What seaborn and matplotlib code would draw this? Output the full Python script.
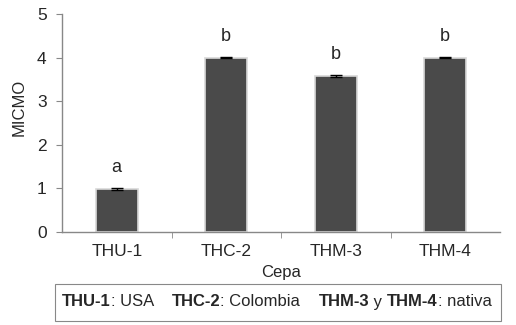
import matplotlib
matplotlib.use("Agg")
import matplotlib.pyplot as plt
import seaborn as sns
import pandas as pd
import numpy as np

categories = ["THU-1", "THC-2", "THM-3", "THM-4"]
values = [0.99, 4.0, 3.58, 4.0]
errors = [0.02, 0.02, 0.02, 0.02]
letters = ["a", "b", "b", "b"]

sns.set_style("white")
plt.rcParams['font.family'] = ['Liberation Sans', 'DejaVu Sans']

df = pd.DataFrame({"Cepa": categories, "MICMO": values})

fig = plt.figure(figsize=(5.16, 3.25), dpi=100)
ax = fig.add_axes([62/516, 1 - 232/325, (500-62)/516, (232-14)/325])

sns.barplot(data=df, x="Cepa", y="MICMO", color="#4a4a4a", width=0.38,
            edgecolor="#d8d8d8", linewidth=1.2, errorbar=None, ax=ax, saturation=1)
x = np.arange(len(categories))
ax.errorbar(x, values, yerr=errors, fmt="none", ecolor="black", elinewidth=1, capsize=4, capthick=1)
for xi, v, l in zip(x, values, letters):
    ax.text(xi, v + 0.3, l, ha="center", va="bottom", fontsize=13)

ax.set_xlim(-0.5, 3.5)
ax.set_ylim(0, 5)
ax.set_yticks([0, 1, 2, 3, 4, 5])
ax.set_xticks(x)
ax.set_xticklabels(categories, fontsize=12.5)
ax.tick_params(axis="y", labelsize=12.5, length=4, color="#888888", left=True, pad=7)
ax.tick_params(axis="x", length=0, pad=9)
ax.set_xticks([0.5, 1.5, 2.5], minor=True)
ax.tick_params(axis="x", which="minor", length=4, color="#888888", bottom=True)
for s in ["top", "right"]:
    ax.spines[s].set_visible(False)
for s in ["left", "bottom"]:
    ax.spines[s].set_color("#888888")
    ax.spines[s].set_linewidth(1)
ax.set_xlabel("Cepa", fontsize=12)
ax.set_ylabel("MICMO", fontsize=12)
ax.xaxis.set_label_coords(0.5, -(272 - 232) / 218, transform=ax.transAxes)
ax.xaxis.label.set_va("center")
ax.yaxis.set_label_coords(-(62 - 19) / 438, (232 - 107) / 218, transform=ax.transAxes)
ax.yaxis.label.set_va("center")

# legend box
fig.patches.append(plt.Rectangle((55/516, 1 - 321/325), (501-55)/516, (321-284)/325,
                                  transform=fig.transFigure, fill=False, edgecolor="#888888", linewidth=0.8))
ty = 1 - 302/325
parts = [("THU-1", True), (": USA    ", False), ("THC-2", True), (": Colombia    ", False),
         ("THM-3", True), (" y ", False), ("THM-4", True), (": nativa", False)]
renderer = fig.canvas.get_renderer()
xpos = 62/516
for txt, bold in parts:
    t = fig.text(xpos, ty, txt, fontsize=12, fontweight="bold" if bold else "normal", va="center", ha="left")
    bb = t.get_window_extent(renderer=renderer)
    xpos += bb.width / fig.bbox.width

fig.savefig("out.png", dpi=100)
